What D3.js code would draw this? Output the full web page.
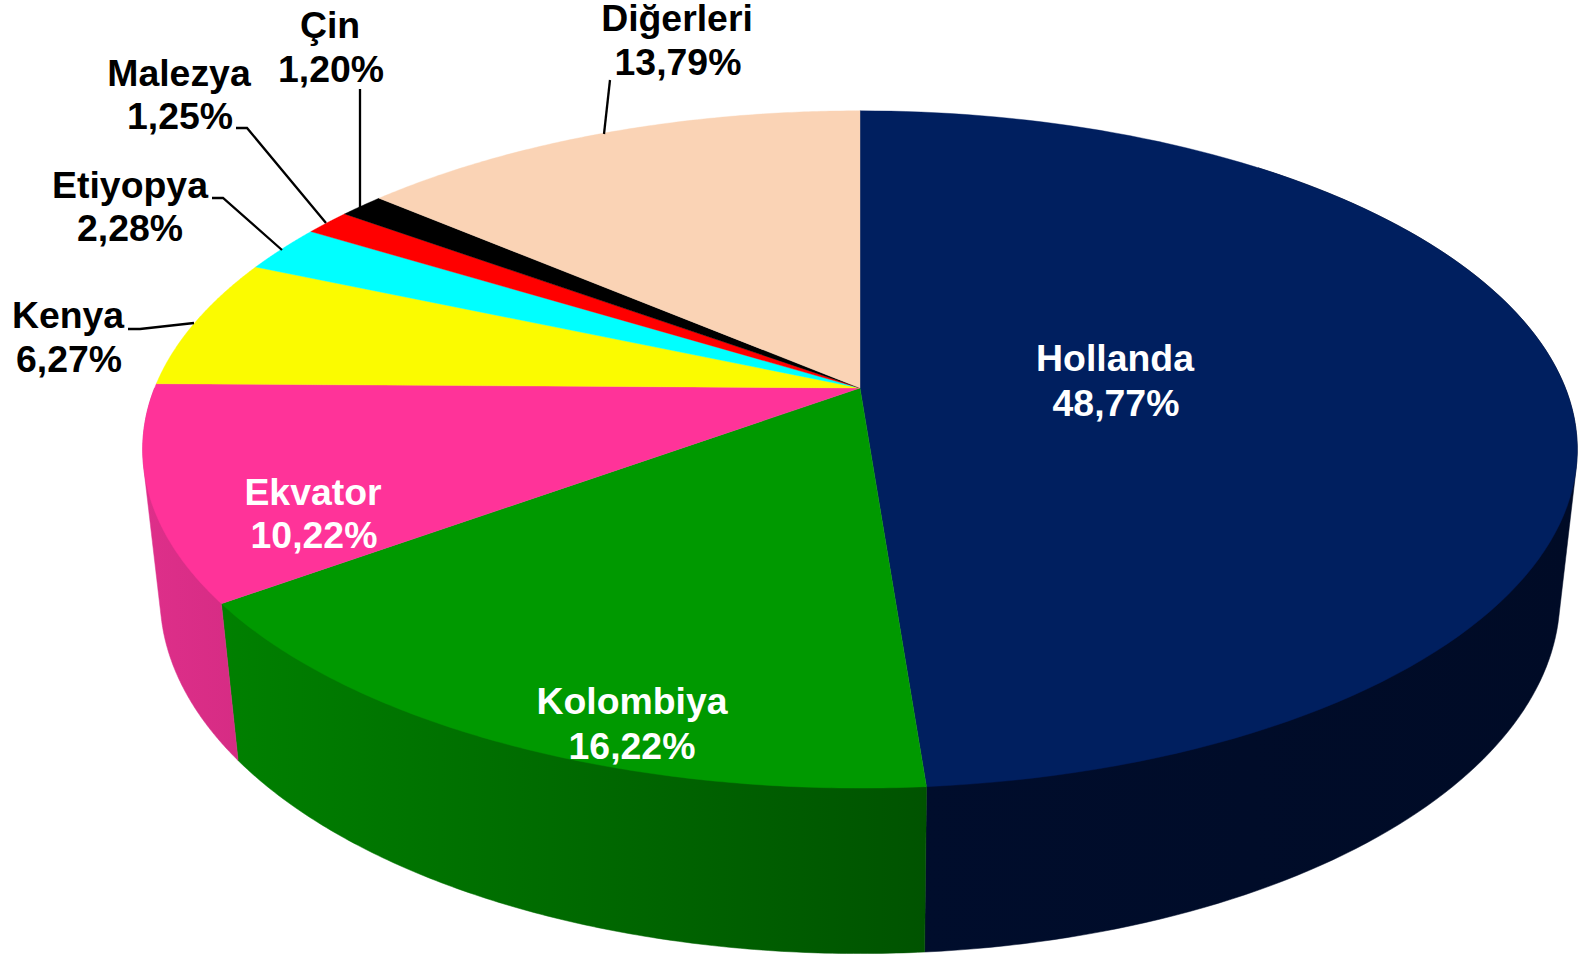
<!DOCTYPE html>
<html lang="tr">
<head>
<meta charset="utf-8">
<script src="https://cdn.jsdelivr.net/npm/d3@7/dist/d3.min.js"></script>
<style>
html,body{margin:0;padding:0;background:#fff;overflow:hidden}
svg{display:block}
text{font-family:"Liberation Sans",Arial,sans-serif;font-weight:700;font-size:37.4px;text-anchor:middle}
</style>
</head>
<body>
<svg id="chart" width="1580" height="954"></svg>
<script>
// Data
const categories = ["Hollanda","Kolombiya","Ekvator","Kenya","Etiyopya","Malezya","Çin","Diğerleri"];
const shares = [48.77,16.22,10.22,6.27,2.28,1.25,1.20,13.79];
const shareLabels = ["48,77%","16,22%","10,22%","6,27%","2,28%","1,25%","1,20%","13,79%"];

// Styling
const topColors = ["#001f5f","#009900","#ff3399","#fbfb00","#00ffff","#ff0000","#000000","#fad3b5"];
const wallStops = [["#000d2c","#000b26"],["#008000","#005300"],["#de2f8a","#d62c84"]];
const labelColors = ["#fff","#fff","#fff","#000","#000","#000","#000","#000"];

// Label layout: centre x of each line, first and second baseline
const labelX1 = [1115,632,313,68,130,179,330,677];
const labelX2 = [1116,632,314,69,130,180,331,678];
const labelY1 = [371,714,505,328,198,86,38,31];
const labelY2 = [416,759,548,372,241,129,82,75];
const leaders = [null,null,null,
  [[128,329],[140,329],[194,323]],
  [[212,198],[223,198],[282,250]],
  [[236,128],[247,128],[326,223]],
  [[360,89],[360,208]],
  [[610,80],[604,134]]];

// Perspective of the disc: unit-circle (u,v) to the screen
const cx = 860, cy = 388, a = 705.4, b = 327.5, k = -0.1815;
const wallDrop = 149, wallShrink = 0.024;
const project = (angle, lower) => {
  const u = Math.sin(angle), v = -Math.cos(angle);
  const w = 1 + k * v + (lower ? wallShrink : 0);
  return [cx + a * u / w, cy + (b * v + (lower ? wallDrop : 0)) / w];
};
const projectCentre = () => [cx, cy];

const svg = d3.select("#chart");
const arcs = d3.pie().sort(null).value(d => d)(shares);
const line = d3.line();
const sample = (start, end) => d3.range(0, 121).map(i => start + (end - start) * i / 120);

const defs = svg.append("defs");
const visibleFrom = 40 * Math.PI / 180, visibleTo = 270 * Math.PI / 180;

// Side walls
const walls = arcs.map((d, i) => {
  const s = Math.max(d.startAngle, visibleFrom), e = Math.min(d.endAngle, visibleTo);
  if (e <= s) return null;
  const pts = sample(s, e).flatMap(t => [project(t, false), project(t, true)]);
  return {i, hull: d3.polygonHull(pts)};
}).filter(Boolean);

walls.forEach(w => {
  const xs = d3.extent(w.hull, p => p[0]);
  const g = defs.append("linearGradient")
    .attr("id", "wall" + w.i).attr("gradientUnits", "userSpaceOnUse")
    .attr("x1", xs[0]).attr("x2", xs[1]).attr("y1", 0).attr("y2", 0);
  g.append("stop").attr("offset", 0).attr("stop-color", wallStops[w.i][0]);
  g.append("stop").attr("offset", 1).attr("stop-color", wallStops[w.i][1]);
});

svg.append("g").selectAll("path").data(walls).join("path")
  .attr("d", w => line(w.hull) + "Z")
  .attr("fill", w => `url(#wall${w.i})`)
  .attr("stroke", w => `url(#wall${w.i})`).attr("stroke-width", 0.5);

// Top face
svg.append("g").selectAll("path").data(arcs).join("path")
  .attr("d", d => line([projectCentre(), ...sample(d.startAngle, d.endAngle).map(t => project(t, false))]) + "Z")
  .attr("fill", (d, i) => topColors[i])
  .attr("stroke", (d, i) => topColors[i]).attr("stroke-width", 0.4);

// Leader lines
svg.append("g").selectAll("path").data(leaders.filter(Boolean)).join("path")
  .attr("d", d => line(d)).attr("fill", "none").attr("stroke", "#000").attr("stroke-width", 2.3);

// Labels
const labels = svg.append("g").selectAll("text").data(categories).join("text")
  .attr("fill", (d, i) => labelColors[i]);
labels.append("tspan").attr("x", (d, i) => labelX1[i]).attr("y", (d, i) => labelY1[i]).text(d => d);
labels.append("tspan").attr("x", (d, i) => labelX2[i]).attr("y", (d, i) => labelY2[i]).text((d, i) => shareLabels[i]);
</script>
</body>
</html>
